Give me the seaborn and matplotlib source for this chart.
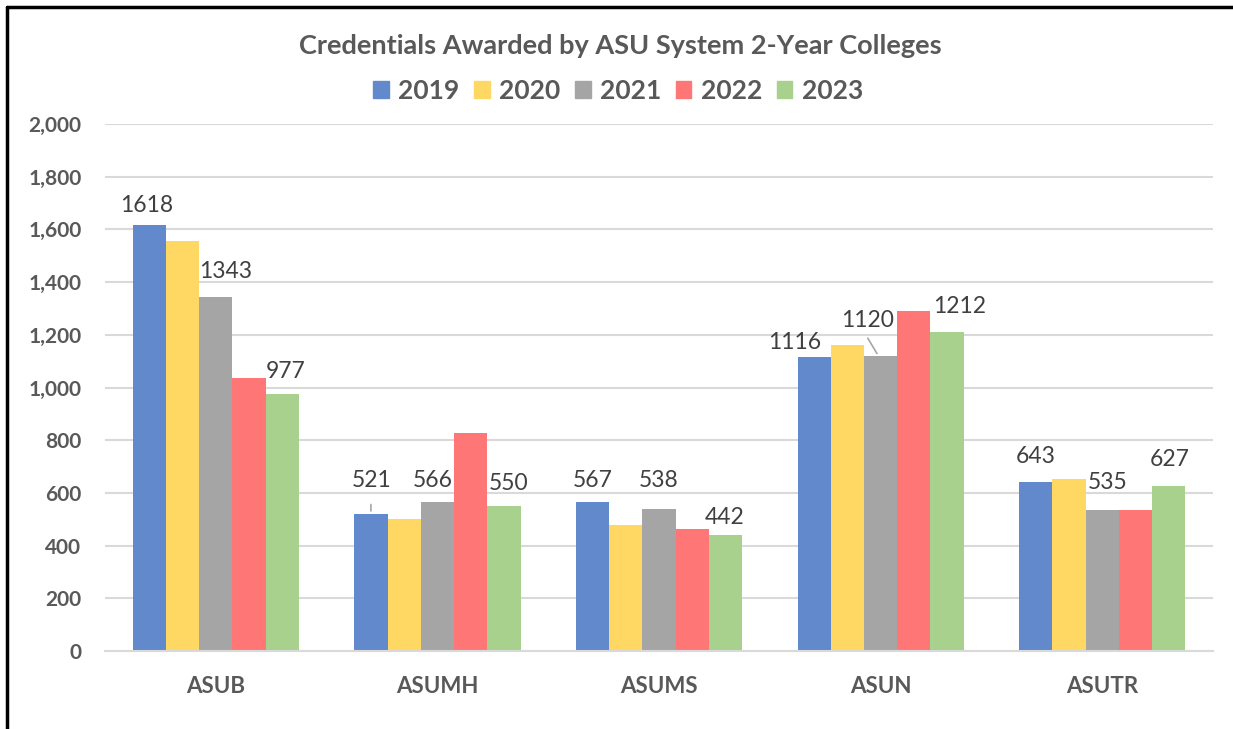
import matplotlib
matplotlib.use("Agg")
import matplotlib.pyplot as plt
import seaborn as sns
import pandas as pd
from matplotlib.lines import Line2D

colleges = ["ASUB", "ASUMH", "ASUMS", "ASUN", "ASUTR"]
years = ["2019", "2020", "2021", "2022", "2023"]
v2019 = [1618, 521, 567, 1116, 643]
v2020 = [1556, 501, 478, 1161, 653]
v2021 = [1343, 566, 538, 1120, 535]
v2022 = [1036, 827, 463, 1290, 535]
v2023 = [977, 550, 442, 1212, 627]
colors = ["#6189CC", "#FFD864", "#A5A5A5", "#FF7676", "#A9D18E"]
yticks = [0, 200, 400, 600, 800, 1000, 1200, 1400, 1600, 1800, 2000]

# which bars carry a data label: (college index, year index, dx px, dy px)
labels = [
    (0, 0, -3, 9), (0, 2, 10, 15), (0, 4, 3, 12),
    (1, 0, 1, 23), (1, 2, -5, 11), (1, 4, 5, 12),
    (2, 0, 0, 11), (2, 2, 0, 18), (2, 4, -1, 7),
    (3, 0, -19, 4), (3, 2, -13, 25), (3, 4, 13, 15),
    (4, 0, 0, 15), (4, 2, 5, 17), (4, 4, 1, 16),
]

series = [v2019, v2020, v2021, v2022, v2023]
rows = []
for y, vals in zip(years, series):
    for c, v in zip(colleges, vals):
        rows.append({"College": c, "Year": y, "Value": v})
df = pd.DataFrame(rows)

sns.set_theme(style="white")
plt.rcParams["font.family"] = ["Lato", "DejaVu Sans"]

fig = plt.figure(figsize=(12.33, 7.29), dpi=100)
ax = fig.add_axes([105 / 1233, 1 - 651 / 729, (1213 - 105) / 1233, (651 - 124) / 729])

sns.barplot(data=df, x="College", y="Value", hue="Year", order=colleges,
            hue_order=years, palette=colors, width=0.75, gap=0,
            linewidth=0, ax=ax, legend=False, saturation=1)

ax.set_ylim(0, 2000)
ax.set_xlim(-0.5, 4.5)
ax.set_yticks(yticks)
ax.set_yticklabels([f"{t:,}" for t in yticks])
ax.yaxis.grid(True, color="#D9D9D9", linewidth=1.5)
ax.set_axisbelow(True)
for s in ["top", "right", "left"]:
    ax.spines[s].set_visible(False)
ax.spines["bottom"].set_color("#D9D9D9")
ax.spines["bottom"].set_linewidth(1.5)
ax.set_xlabel("")
ax.set_ylabel("")
ax.tick_params(axis="both", length=0)
ax.tick_params(axis="y", pad=17)
ax.tick_params(axis="x", pad=18)
for t in ax.get_yticklabels():
    t.set_fontsize(15)
    t.set_fontweight("bold")
    t.set_color("#595959")
for t in ax.get_xticklabels():
    t.set_fontsize(16)
    t.set_fontweight("bold")
    t.set_color("#595959")

# data labels
w = 0.75 / 5
for ci, yi, dx, dy in labels:
    val = series[yi][ci]
    xc = ci - 0.375 + w * (yi + 0.5)
    ax.annotate(f"{val}", xy=(xc, val), xytext=(dx, dy), textcoords="offset pixels",
                ha="center", va="bottom", fontsize=16.5, color="#404040")

# leader lines
ax.annotate("", xy=(1 - 0.375 + w * 0.5, 521), xytext=(0, 12), textcoords="offset pixels",
            arrowprops=dict(arrowstyle="-", color="#A6A6A6", lw=1.2))
ax.annotate("", xy=(3 - 0.375 + w * 2.5 - 0.01, 1120), xytext=(-12, 20), textcoords="offset pixels",
            arrowprops=dict(arrowstyle="-", color="#A6A6A6", lw=1.2))

fig.text(620 / 1233, 1 - 46 / 729, "Credentials Awarded by ASU System 2-Year Colleges",
         ha="center", va="center", fontsize=19.5, fontweight="bold", color="#595959")

handles = [plt.Rectangle((0, 0), 1, 1, color=c) for c in colors]
leg = fig.legend(handles, years, loc="center", bbox_to_anchor=(618 / 1233, 1 - 91 / 729),
                 ncol=5, frameon=False, handlelength=0.6, handleheight=0.6,
                 handletextpad=0.35, columnspacing=0.55,
                 prop={"weight": "bold", "size": 19})
for t in leg.get_texts():
    t.set_color("#595959")

# chart border (left and top)
fig.add_artist(Line2D([7 / 1233, 7 / 1233], [0, 1 - 7 / 729], color="black", lw=2.5,
                      transform=fig.transFigure))
fig.add_artist(Line2D([7 / 1233, 1], [1 - 7 / 729, 1 - 7 / 729], color="black", lw=2.5,
                      transform=fig.transFigure))

fig.savefig("out.png", dpi=100)
